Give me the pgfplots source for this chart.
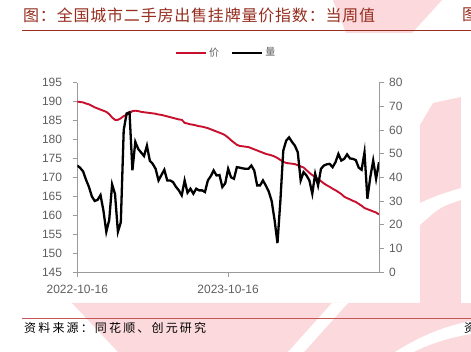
\documentclass[border=0pt]{standalone}
\usepackage{fontspec}
\setmainfont{Liberation Sans}
\newfontfamily\cjktitle[LetterSpace=5]{Noto Sans CJK SC}
\newfontfamily\cjksrc[LetterSpace=18]{Noto Sans CJK SC}
\newfontfamily\cjk{Noto Sans CJK SC}
\usepackage{pgfplots}
\pgfplotsset{compat=1.18}
\definecolor{pricered}{RGB}{200,16,46}
\definecolor{titlered}{RGB}{150,45,30}
\definecolor{srcline}{RGB}{195,85,85}
\definecolor{wm}{RGB}{251,217,220}
\definecolor{tickgray}{RGB}{95,95,95}
\definecolor{axisgray}{RGB}{155,155,155}

\pgfplotstableread{
w v
0 190
1 189.9
2 189.8
3 189.5
4 189.3
5 188.9
6 188.5
7 188.2
8 187.9
9 187.6
10 187.3
11 186.7
12 185.8
13 185.2
14 185.2
15 185.6
16 186.2
17 186.5
18 186.9
19 187.5
20 187.6
21 187.5
22 187.3
23 187.2
24 187.1
25 187.0
26 186.9
27 186.8
28 186.6
29 186.5
30 186.3
31 186.1
32 185.9
33 185.7
34 185.5
35 185.3
36 185.2
37 184.4
38 184.2
39 184.0
40 183.9
41 183.7
42 183.5
43 183.4
44 183.2
45 183.0
46 182.7
47 182.4
48 182.1
49 181.8
50 181.5
51 181.1
52 180.5
53 179.8
54 179.2
55 178.6
56 178.3
57 178.2
58 178.1
59 178.0
60 177.7
61 177.4
62 177.1
63 176.8
64 176.5
65 176.2
66 176.0
67 175.8
68 175.5
69 175.1
70 174.6
71 174.1
72 173.8
73 173.7
74 173.6
75 173.5
76 173.2
77 172.9
78 172.6
79 171.9
80 171.2
81 170.6
82 170.1
83 169.6
84 169.0
85 168.4
86 167.9
87 167.5
88 167.0
89 166.6
90 166.1
91 165.6
92 164.9
93 164.5
94 164.2
95 163.8
96 163.5
97 163.0
98 162.5
99 161.9
100 161.6
101 161.3
102 161.0
103 160.7
104 160.2
}\pricetable

\pgfplotstableread{
w v
0 45
1 44
2 42.5
3 39
4 36
5 32
6 30
7 30.5
8 32.5
9 26
10 17
11 22
12 37
13 33
14 17
15 21
16 60
17 67
18 67.5
19 43
20 55
21 52
22 50.5
23 49
24 53.4
25 47
26 45.7
27 43.6
28 38.7
29 41
30 43.2
31 38.7
32 38.7
33 38
34 36
35 34.5
36 32.4
37 38.7
38 33.5
39 35.2
40 33.1
41 35.2
42 34.5
43 34.5
44 33.8
45 38.7
46 40.5
47 42.9
48 40.8
49 41
50 35.9
51 37.5
52 43.6
53 40
54 39.4
55 44.3
56 44.1
57 43.8
58 43.6
59 43.6
60 45
61 42.9
62 36.6
63 36.6
64 38.7
65 36.5
66 34
67 30
68 22
69 12.2
70 30
71 51.3
72 55.5
73 56.9
74 55
75 53.4
76 50.6
77 38.7
78 42.2
79 40.8
80 38.7
81 33.1
82 41.5
83 36.6
84 43.6
85 45
86 45.5
87 45.7
88 44.3
89 46.4
90 49.9
91 47.1
92 47.8
93 49.7
94 48
95 47.8
96 47.3
97 44.1
98 43.2
99 50.6
100 31
101 40.1
102 47.1
103 39.4
104 46.4
}\volumetable

\pgfplotsset{
  common/.style={
    at={(77.3pt,-272pt)}, anchor=south west,
    scale only axis, width=301.7pt, height=189.3pt,
    xmin=0, xmax=104,
    axis line style={axisgray, line width=0.9pt},
    tick style={axisgray, line width=0.9pt},
    tick align=outside, major tick length=4.7pt,
    ticklabel style={font=\fontsize{12}{12}\selectfont, text=tickgray},
    /pgf/number format/assume math mode=true,
  }
}

\begin{document}
\begin{tikzpicture}
\useasboundingbox (0,0) rectangle (471pt,-352pt);
\fill[white] (0,0) rectangle (471pt,-352pt);
\begin{scope}[x=1pt,y=-1pt]
  % watermark
  \fill[wm] (333,0) -- (442,0) -- (412,33) -- (346,33) -- cycle;
  \fill[wm] (420,125) -- (433,103) -- (461,97) -- (461,303) -- (420,303) -- cycle;
  \fill[wm] (72,303) -- (471,303) -- (471,352) -- (118,352) -- cycle;
  \fill[white] (332,303) -- (348,303) -- (304,352) -- (288,352) -- cycle;
  \fill[white] (420,203) .. controls (438,195) .. (461,188) -- (461,200) .. controls (440,207) .. (420,225) -- cycle;
  \fill[white] (395,352) .. controls (420,336) and (445,326) .. (471,321) -- (471,334) .. controls (447,338) and (427,345) .. (414,352) -- cycle;
  \fill[white] (461,97) rectangle (471,303);
  % title and source
  \node[anchor=west, text=titlered, inner sep=0pt, font=\cjktitle\fontsize{16}{16}\selectfont] at (23,15) {图：全国城市二手房出售挂牌量价指数：当周值};
  \node[anchor=west, text=titlered, inner sep=0pt, font=\cjktitle\fontsize{16}{16}\selectfont] at (462,15) {图};
  \draw[titlered, line width=1.3pt] (22,30.5) -- (471,30.5);
  \draw[srcline, line width=0.8pt] (22,318) -- (471,318);
  \node[anchor=west, text=black, inner sep=0pt, font=\cjksrc\fontsize{12}{12}\selectfont] at (24,327.5) {资料来源：同花顺、创元研究};
  \node[anchor=west, text=black, inner sep=0pt, font=\cjksrc\fontsize{12}{12}\selectfont] at (464,327.5) {资};
\end{scope}

\begin{axis}[common,
  ymin=145, ymax=195, ytick={145,150,...,195},
  axis x line*=bottom, axis y line*=left,
  xtick={0,52}, xticklabels={2022-10-16,2023-10-16},
  yticklabel style={xshift=-7pt},
  xticklabel style={yshift=-4.5pt},
]
\addplot[pricered, line width=1.9pt, no markers] table[x=w,y=v] {\pricetable};
\end{axis}

\begin{axis}[common,
  ymin=0, ymax=80, ytick={0,10,...,80},
  axis x line=none, axis y line*=right,
  yticklabel style={xshift=2pt},
  legend image code/.code={\draw[#1] (0pt,0pt) -- (30pt,0pt);},
  legend style={draw=none, fill=none, legend columns=2,
    at={(0.5,1)}, anchor=center, yshift=30pt, xshift=-2pt,
    font=\cjk\fontsize{10}{10}\selectfont, text=tickgray,
    /tikz/every even column/.append style={column sep=10pt}},
]
\addlegendimage{pricered, line width=2pt}
\addlegendentry{价}
\addplot[black, line width=2.3pt, no markers] table[x=w,y=v] {\volumetable};
\addlegendentry{量}
\end{axis}
\end{tikzpicture}
\end{document}
